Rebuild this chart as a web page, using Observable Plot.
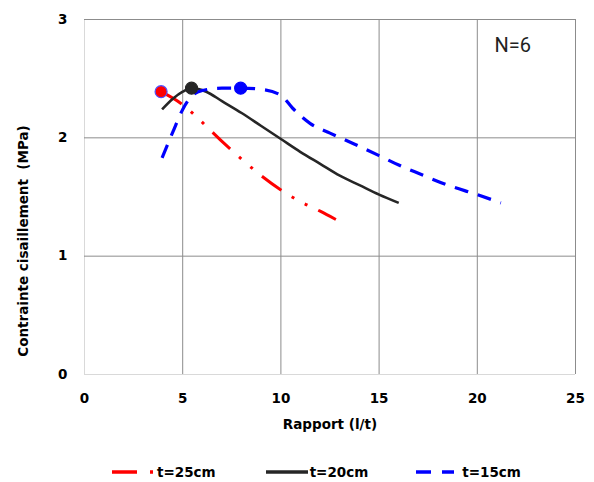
<!DOCTYPE html>
<html>
<head>
<meta charset="utf-8">
<script src="https://cdn.jsdelivr.net/npm/d3@7"></script>
<script src="https://cdn.jsdelivr.net/npm/@observablehq/plot@0.6"></script>
<style>
  body { margin: 0; background: #fff; font-family: "DejaVu Sans", sans-serif; }
  #chart svg { display: block; }
  #legend { display: flex; align-items: center; height: 37px; margin-top: 8px; padding-left: 112px; font: bold 13.5px "DejaVu Sans", sans-serif; color: #000; }
  #legend .item { display: flex; align-items: center; }
  #legend svg { display: block; }
</style>
</head>
<body>
<div id="chart"></div>
<div id="legend"></div>
<script>
// Series: t=25cm (red, dash-dot-dot)
const t25x = [3.9, 5, 6, 7, 8, 9, 10, 11, 12, 12.8];
const t25y = [2.39, 2.28, 2.13, 1.97, 1.82, 1.68, 1.56, 1.46, 1.38, 1.31];
// Series: t=20cm (black, solid)
const t20x = [3.95, 4.5, 5, 5.45, 6.2, 7, 8, 9, 10, 11, 12, 13, 14, 15, 16];
const t20y = [2.24, 2.33, 2.39, 2.42, 2.39, 2.31, 2.21, 2.1, 1.99, 1.88, 1.78, 1.68, 1.6, 1.52, 1.45];
// Series: t=15cm (blue, dashed)
const t15x = [3.95, 4.5, 5, 5.5, 6, 7, 8, 9, 10, 10.6, 11.5, 12.5, 13.7, 15, 16, 17, 18.5, 20, 21.2];
const t15y = [1.83, 2.05, 2.24, 2.36, 2.4, 2.42, 2.42, 2.41, 2.36, 2.25, 2.12, 2.04, 1.95, 1.85, 1.77, 1.7, 1.6, 1.52, 1.45];
// Peak markers
const peakX = [3.9, 5.45, 7.95];
const peakY = [2.39, 2.42, 2.42];
const peakSeries = ["t=25cm", "t=20cm", "t=15cm"];
// Ticks and labels
const xTicks = [0, 5, 10, 15, 20, 25];
const yTicks = [0, 1, 2, 3];
const annotation = [{x: 21.8, y: 2.78, text: "N=6"}];

const seriesNames = ["t=25cm", "t=20cm", "t=15cm"];
const colors = {"t=25cm": "#ff0000", "t=20cm": "#262626", "t=15cm": "#0000ff"};
const dashes = {"t=25cm": "24,12,3,12,3,12", "t=20cm": null, "t=15cm": "14,10"};
const widths = {"t=25cm": 3, "t=20cm": 2.6, "t=15cm": 3.2};

const toRows = (xs, ys) => xs.map((x, i) => ({x, y: ys[i]}));
const series = {"t=25cm": toRows(t25x, t25y), "t=20cm": toRows(t20x, t20y), "t=15cm": toRows(t15x, t15y)};
const peaks = peakX.map((x, i) => ({x, y: peakY[i], s: peakSeries[i]}));

const lineMarks = seriesNames.map(s => Plot.line(series[s], {
  x: "x", y: "y", stroke: colors[s], strokeWidth: widths[s],
  strokeDasharray: dashes[s], curve: "monotone-x", strokeLinecap: "butt"
}));

const FONT = "'DejaVu Sans', sans-serif";
const chart = Plot.plot({
  width: 594,
  height: 445,
  marginLeft: 84,
  marginRight: 19,
  marginTop: 19,
  marginBottom: 71,
  style: {fontFamily: FONT, fontSize: "13.5px", fontWeight: "bold", color: "#000", background: "#fff"},
  x: {domain: [0, 25]},
  y: {domain: [0, 3]},
  marks: [
    Plot.ruleX([0], {stroke: "#d9d9d9"}),
    Plot.ruleY([0], {stroke: "#d9d9d9"}),
    Plot.gridX(xTicks.slice(1), {stroke: "#8c8c8c", strokeOpacity: 1}),
    Plot.gridY(yTicks.slice(1), {stroke: "#8c8c8c", strokeOpacity: 1}),
    Plot.axisX(xTicks, {tickSize: 0, tickPadding: 19, fontSize: 13.5, fontWeight: "bold", tickFormat: d3.format("d"),
      label: "Rapport (l/t)", labelAnchor: "center", labelArrow: "none", labelOffset: 54}),
    Plot.axisY(yTicks, {tickSize: 0, tickPadding: 17, fontSize: 13.5, fontWeight: "bold", tickFormat: d3.format("d"),
      label: "Contrainte cisaillement  (MPa)", labelAnchor: "center", labelArrow: "none", labelOffset: 66}),
    ...lineMarks,
    Plot.dot(peaks, {x: "x", y: "y", r: 6, fill: d => colors[d.s],
      stroke: d => d.s === "t=25cm" ? "#5050ff" : colors[d.s], strokeWidth: 1.2}),
    Plot.text(annotation, {x: "x", y: "y", text: "text", fontSize: 20, fontWeight: "normal",
      fontFamily: "Roboto, sans-serif", fill: "#222"})
  ]
});
document.getElementById("chart").appendChild(chart);
// axis labels: font size and the reference's vertical placement of the y label
const yl = chart.querySelector('g[aria-label="y-axis label"]');
if (yl) {
  const prev = yl.getAttribute("transform") || "";
  yl.setAttribute("transform", "translate(0,44) " + prev);
  yl.setAttribute("font-size", 13.5);
  yl.querySelectorAll("text").forEach(t => { t.setAttribute("font-size", 13.5); t.style.whiteSpace = "pre"; });
}
const xl = chart.querySelector('g[aria-label="x-axis label"]');
if (xl) {
  xl.setAttribute("font-size", 13.5);
  xl.querySelectorAll("text").forEach(t => t.setAttribute("font-size", 13.5));
}

// Legend
const legend = document.getElementById("legend");
const swatch = {
  "t=25cm": {w: 45, dash: "25,13,3,30", gap: 0, after: 50},
  "t=20cm": {w: 42, dash: null, gap: 2, after: 48},
  "t=15cm": {w: 38, dash: "15,11,12,20", gap: 8, after: 0}
};
seriesNames.forEach(s => {
  const cfg = swatch[s];
  const item = document.createElement("div");
  item.className = "item";
  item.style.marginRight = cfg.after + "px";
  const sw = d3.create("svg").attr("width", cfg.w).attr("height", 12).style("margin-right", cfg.gap + "px");
  sw.append("line").attr("x1", 0).attr("x2", cfg.w).attr("y1", 6).attr("y2", 6)
    .attr("stroke", colors[s]).attr("stroke-width", 3.5)
    .attr("stroke-dasharray", cfg.dash);
  item.appendChild(sw.node());
  const label = document.createElement("span");
  label.textContent = s;
  item.appendChild(label);
  legend.appendChild(item);
});
</script>
</body>
</html>
